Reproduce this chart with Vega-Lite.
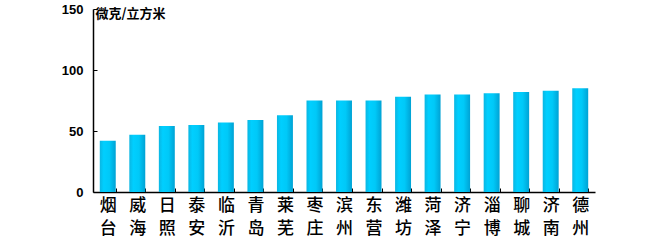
{
  "$schema": "https://vega.github.io/schema/vega-lite/v6.json",
  "width": 502,
  "height": 183,
  "autosize": {"type": "none"},
  "padding": {"left": 93, "top": 9, "right": 56, "bottom": 49},
  "background": "white",
  "data": {
    "values": [
      {"city": "烟台", "pm": 42},
      {"city": "威海", "pm": 47},
      {"city": "日照", "pm": 54},
      {"city": "泰安", "pm": 55},
      {"city": "临沂", "pm": 57},
      {"city": "青岛", "pm": 59},
      {"city": "莱芜", "pm": 63},
      {"city": "枣庄", "pm": 75},
      {"city": "滨州", "pm": 75},
      {"city": "东营", "pm": 75},
      {"city": "潍坊", "pm": 78},
      {"city": "菏泽", "pm": 80},
      {"city": "济宁", "pm": 80},
      {"city": "淄博", "pm": 81},
      {"city": "聊城", "pm": 82},
      {"city": "济南", "pm": 83},
      {"city": "德州", "pm": 85}
    ]
  },
  "config": {
    "view": {"stroke": null}
  },
  "mark": {
    "type": "bar",
    "color": {
      "gradient": "linear",
      "x1": 0, "x2": 1, "y1": 0, "y2": 0,
      "stops": [
        {"offset": 0, "color": "#0BB6E2"},
        {"offset": 0.25, "color": "#00CFFF"},
        {"offset": 0.6, "color": "#00C9F8"},
        {"offset": 1, "color": "#00A2D4"}
      ]
    }
  },
  "encoding": {
    "x": {
      "field": "city",
      "type": "nominal",
      "sort": null,
      "scale": {"paddingInner": 0.46, "paddingOuter": 0.23},
      "axis": {
        "title": null,
        "domainColor": "black",
        "domainWidth": 1.5,
        "tickBand": "extent",
        "tickColor": "black",
        "tickSize": -4,
        "labelAngle": 0,
        "labelFont": "Noto Sans CJK SC",
        "labelFontSize": 17,
        "labelFontWeight": 500,
        "labelColor": "black",
        "labelLineHeight": 23,
        "labelPadding": 9,
        "labelBaseline": "top",
        "labelExpr": "[substring(datum.label, 0, 1), substring(datum.label, 1, 2)]"
      }
    },
    "y": {
      "field": "pm",
      "type": "quantitative",
      "scale": {"domain": [0, 150], "nice": false},
      "axis": {
        "values": [0, 50, 100, 150],
        "grid": false,
        "domainColor": "black",
        "domainWidth": 1.5,
        "tickColor": "black",
        "tickSize": -4,
        "labelFont": "Liberation Sans",
        "labelFontWeight": "bold",
        "labelFontSize": 13,
        "labelColor": "black",
        "labelPadding": 14,
        "title": "微克/立方米",
        "titleAngle": 0,
        "titleX": 2,
        "titleY": 4,
        "titleAlign": "left",
        "titleBaseline": "middle",
        "titleFont": "Noto Sans CJK SC",
        "titleFontSize": 13,
        "titleFontWeight": "bold",
        "titleColor": "black"
      }
    }
  }
}
